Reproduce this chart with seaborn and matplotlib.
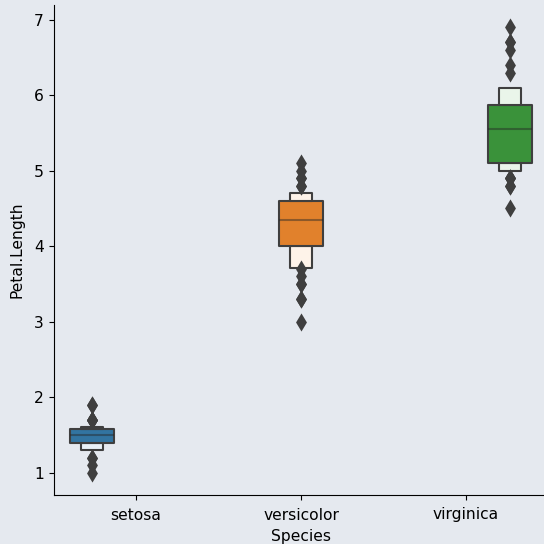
import matplotlib
matplotlib.use("Agg")
import matplotlib.pyplot as plt
from matplotlib.collections import PatchCollection
import numpy as np
import seaborn as sns
import pandas as pd

# Petal length measurements (cm) for the three iris species
species = ["setosa", "versicolor", "virginica"]

setosa_petal = [1.4, 1.4, 1.3, 1.5, 1.4, 1.7, 1.4, 1.5, 1.4, 1.5,
                1.5, 1.6, 1.4, 1.1, 1.2, 1.5, 1.3, 1.4, 1.7, 1.5,
                1.7, 1.5, 1.0, 1.7, 1.9, 1.6, 1.6, 1.5, 1.4, 1.6,
                1.6, 1.5, 1.5, 1.4, 1.5, 1.2, 1.3, 1.4, 1.3, 1.5,
                1.3, 1.3, 1.3, 1.6, 1.9, 1.4, 1.6, 1.4, 1.5, 1.4]
versicolor_petal = [4.7, 4.5, 4.9, 4.0, 4.6, 4.5, 4.7, 3.3, 4.6, 3.9,
                    3.5, 4.2, 4.0, 4.7, 3.6, 4.4, 4.5, 4.1, 4.5, 3.9,
                    4.8, 4.0, 4.9, 4.7, 4.3, 4.4, 4.8, 5.0, 4.5, 3.5,
                    3.8, 3.7, 3.9, 5.1, 4.5, 4.5, 4.7, 4.4, 4.1, 4.0,
                    4.4, 4.6, 4.0, 3.3, 4.2, 4.2, 4.2, 4.3, 3.0, 4.1]
virginica_petal = [6.0, 5.1, 5.9, 5.6, 5.8, 6.6, 4.5, 6.3, 5.8, 6.1,
                   5.1, 5.3, 5.5, 5.0, 5.1, 5.3, 5.5, 6.7, 6.9, 5.0,
                   5.7, 4.9, 6.7, 4.9, 5.7, 6.0, 4.8, 4.9, 5.6, 5.8,
                   6.1, 6.4, 5.6, 5.1, 5.6, 6.1, 5.6, 5.5, 4.8, 5.4,
                   5.6, 5.1, 5.1, 5.9, 5.7, 5.2, 5.0, 5.2, 5.4, 5.1]

df = pd.DataFrame({
    "Species": ["setosa"] * len(setosa_petal)
    + ["versicolor"] * len(versicolor_petal)
    + ["virginica"] * len(virginica_petal),
    "Petal.Length": setosa_petal + versicolor_petal + virginica_petal,
})

bg = "#e5e9ef"
plt.rcParams["font.family"] = ["DejaVu Sans"]

fig = plt.figure(figsize=(5.44, 5.44), dpi=100, facecolor=bg)
ax = fig.add_axes([53.5 / 544, 49 / 544, 495 / 544, 490 / 544])
ax.set_facecolor(bg)

sns.boxenplot(
    data=df, x="Species", y="Petal.Length", hue="Species",
    order=species, hue_order=species, dodge=True, width=0.8,
    palette="tab10", saturation=0.75, linewidth=1.5, linecolor="#3f3f3f",
    k_depth="tukey", legend=False, ax=ax,
    line_kws=dict(color=".15", alpha=0.45, linewidth=1.5),
    flier_kws=dict(marker="d", s=85, facecolor="#3f3f3f", linewidth=0),
)

# The innermost (quartile) box keeps the full species colour;
# the narrower outer letter-value boxes get a pale tint of it.
for coll in ax.collections:
    if not isinstance(coll, PatchCollection):
        continue
    fcs = coll.get_facecolors()
    paths = coll.get_paths()
    if len(fcs) != len(paths) or len(paths) < 2:
        continue
    widths = [p.get_extents().width for p in paths]
    inner = int(np.argmax(widths))
    base = np.array(fcs[inner][:3])
    new = []
    for i, fc in enumerate(fcs):
        if i == inner:
            new.append(fc)
        else:
            c = 0.88 * np.array([0.99, 0.99, 0.99]) + 0.12 * base
            c = np.clip(c + 0.02, 0, 1)
            new.append((*c, 1.0))
    coll.set_facecolors(new)

ax.set_xlim(-0.5, 2.5)
ax.spines["top"].set_visible(False)
ax.spines["right"].set_visible(False)
ax.tick_params(labelsize=11.2)
ax.tick_params(axis="x", pad=5.5)
ax.set_xlabel("Species", fontsize=11.2, labelpad=5)
ax.set_ylabel("Petal.Length", fontsize=11.2, labelpad=7)

fig.savefig("out.png", dpi=100, facecolor=bg)
